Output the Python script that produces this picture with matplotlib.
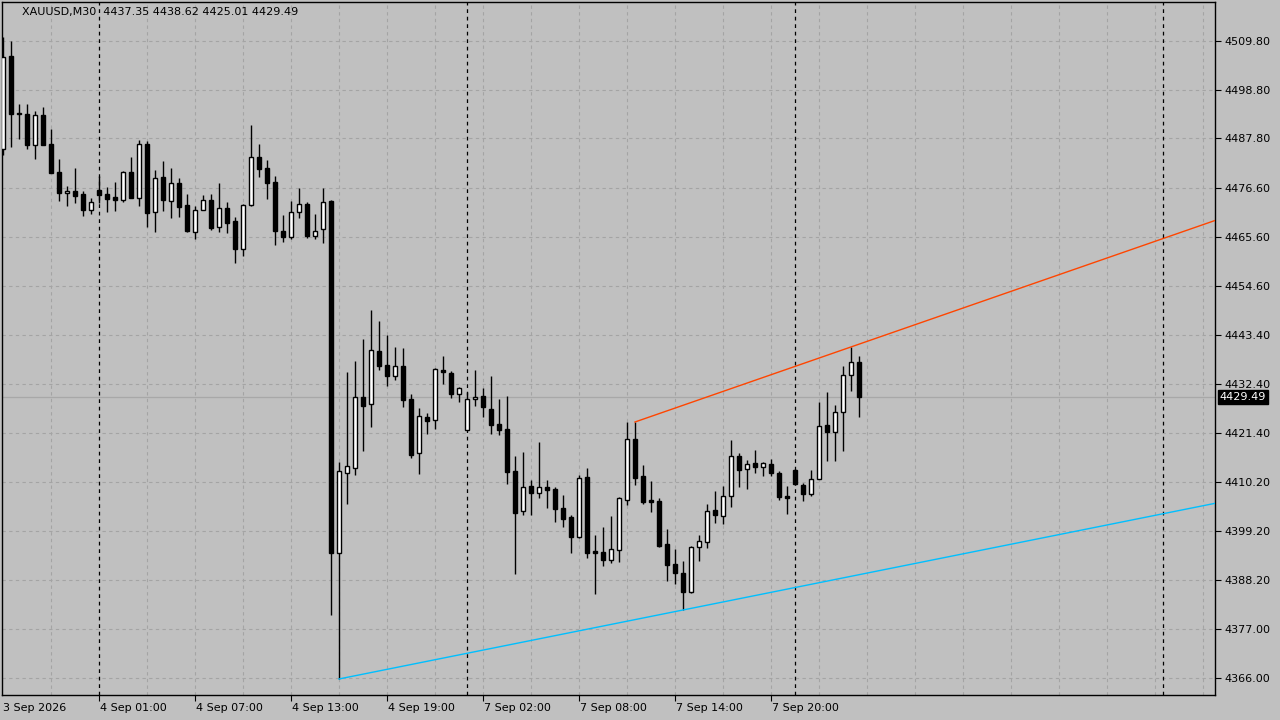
import matplotlib
matplotlib.use("Agg")
import matplotlib.pyplot as plt
from matplotlib.patches import Rectangle

opens = [4485.42,4506.42,4493.32,4493.32,4486.33,4493.10,4486.55,4480.23,4475.49,4475.94,
         4475.26,4471.65,4476.17,4475.26,4474.59,4473.91,4480.23,4474.36,4486.55,4471.20,
         4479.10,4473.68,4477.75,4472.78,4466.69,4471.65,4473.91,4467.81,4472.10,4469.17,
         4462.85,4472.78,4483.62,4481.13,4477.97,4466.91,4465.56,4471.20,4473.01,4465.78,
         4467.36,4473.68,4394.22,4412.28,4413.41,4429.44,4427.86,4439.82,4436.66,4434.18,
         4436.44,4428.99,4416.80,4424.92,4424.25,4435.53,4434.86,4430.11,4421.99,4428.99,
         4429.66,4426.73,4423.34,4422.21,4412.73,4403.70,4409.35,4407.77,4409.12,4408.67,
         4404.38,4402.35,4397.83,4411.38,4394.67,4394.45,4392.64,4394.90,4406.19,4419.96,
         4411.60,4406.19,4405.96,4396.25,4391.74,4389.71,4385.42,4395.57,4396.70,4403.93,
         4402.57,4407.09,4416.12,4413.18,4414.54,4413.64,4414.31,4412.28,4407.09,4412.96,
         4409.57,4407.54,4410.93,4423.12,4421.54,4426.05,4434.40,4437.35]
highs = [4510.71,4509.80,4495.58,4495.58,4494.00,4494.91,4489.94,4483.17,4477.07,4481.13,
         4475.94,4474.36,4479.33,4476.85,4477.97,4480.46,4483.62,4487.46,4487.23,4480.68,
         4482.71,4481.13,4478.88,4475.26,4472.56,4475.04,4475.26,4477.75,4473.46,4470.07,
         4473.01,4490.84,4486.55,4482.94,4479.33,4470.52,4473.68,4476.62,4473.46,4470.75,
         4476.62,4474.00,4414.76,4435.08,4437.56,4442.53,4449.08,4446.59,4443.43,4440.73,
         4440.50,4430.11,4426.95,4425.83,4435.98,4438.69,4435.31,4431.70,4430.57,4435.53,
         4431.47,4434.18,4428.99,4429.66,4416.12,4417.02,4410.70,4419.28,4410.70,4409.12,
         4407.31,4402.80,4411.83,4413.41,4398.28,4400.09,4402.57,4406.86,4423.79,4423.79,
         4414.09,4410.47,4406.64,4399.64,4395.12,4392.41,4395.80,4398.28,4405.28,4408.22,
         4409.35,4419.73,4416.80,4415.22,4417.47,4414.76,4415.44,4412.73,4409.35,4413.18,
         4410.02,4412.96,4428.31,4430.57,4427.63,4436.44,4440.73,4438.62]
lows = [4484.07,4485.87,4487.68,4485.42,4483.17,4486.33,4480.01,4473.68,4472.56,4473.23,
        4470.30,4470.75,4473.23,4471.20,4471.43,4473.46,4474.36,4472.56,4467.81,4466.69,
        4471.43,4469.85,4470.07,4466.69,4465.11,4471.65,4467.14,4466.69,4466.46,4459.69,
        4461.27,4472.56,4479.10,4474.14,4463.75,4464.43,4465.11,4469.85,4465.33,4465.11,
        4464.20,4380.22,4365.78,4405.28,4411.83,4417.25,4422.67,4435.53,4431.92,4433.28,
        4427.18,4415.67,4412.05,4421.08,4422.21,4432.37,4429.21,4428.31,4421.99,4427.41,
        4424.92,4421.08,4420.86,4409.80,4389.48,4402.80,4402.80,4406.64,4404.38,4401.22,
        4400.09,4394.22,4397.61,4393.09,4384.96,4391.29,4391.96,4392.19,4405.06,4409.57,
        4405.28,4403.48,4395.57,4387.90,4387.22,4381.35,4385.19,4392.41,4395.35,4400.99,
        4400.77,4404.60,4409.12,4408.67,4412.28,4411.60,4411.60,4406.19,4403.02,4409.57,
        4405.96,4407.09,4410.93,4414.99,4414.99,4417.25,4430.79,4425.01]
closes = [4506.19,4493.32,4493.32,4486.33,4493.10,4486.33,4480.01,4475.49,4475.94,4474.81,
          4471.65,4473.46,4475.04,4474.14,4473.91,4480.23,4474.36,4486.55,4470.98,4478.88,
          4473.91,4477.75,4472.33,4466.91,4471.65,4473.91,4467.59,4472.10,4468.72,4462.85,
          4472.78,4483.62,4480.91,4477.75,4466.91,4465.56,4471.20,4473.01,4465.78,4466.91,
          4473.46,4394.22,4412.73,4413.86,4429.44,4427.41,4440.05,4436.44,4434.18,4436.44,
          4428.76,4416.34,4425.15,4424.02,4435.76,4435.08,4430.11,4431.47,4428.99,4429.44,
          4427.18,4423.12,4421.99,4412.51,4403.25,4409.12,4407.77,4409.12,4408.44,4404.15,
          4401.90,4397.83,4411.15,4394.22,4394.22,4392.64,4395.12,4406.64,4419.96,4411.15,
          4405.73,4405.73,4395.80,4391.51,4389.71,4385.42,4395.57,4396.93,4403.70,4402.80,
          4407.09,4416.12,4412.96,4414.31,4413.64,4414.54,4412.28,4406.86,4406.64,4409.80,
          4407.54,4410.93,4422.89,4421.54,4426.05,4434.40,4437.34,4429.49]

price_ticks = [4509.80,4498.80,4487.80,4476.60,4465.60,4454.60,4443.40,4432.40,
               4421.40,4410.20,4399.20,4388.20,4377.00,4366.00]
time_labels = ["3 Sep 2026","4 Sep 01:00","4 Sep 07:00","4 Sep 13:00","4 Sep 19:00",
               "7 Sep 02:00","7 Sep 08:00","7 Sep 14:00","7 Sep 20:00"]
time_label_bars = [0,12,24,36,48,60,72,84,96]
day_separator_bars = [12,58,99,145]
red_line = [(79,4423.79),(106,4440.73)]
blue_line = [(42,4365.78),(85,4381.35)]
title = "XAUUSD,M30  4437.35 4438.62 4425.01 4429.49"
last_price = 4429.49

BG = "#c0c0c0"
fig = plt.figure(figsize=(12.8,7.2), dpi=100, facecolor=BG)
ax = fig.add_axes([2/1280, 25/720, 1213/1280, 693/720], facecolor=BG)
xmin, xmax = -0.125, 151.5
ymin, ymax = 4362.16, 4518.6
ax.set_xlim(xmin, xmax); ax.set_ylim(ymin, ymax)

for p in price_ticks:
    ax.axhline(p, color="#a4a4a4", lw=0.8, ls=(0,(3,3)), zorder=0)
for b in range(6, 152, 6):
    if b not in day_separator_bars:
        ax.axvline(b, color="#a4a4a4", lw=0.8, ls=(0,(3,3)), zorder=0)
for b in day_separator_bars:
    ax.axvline(b, color="black", lw=0.9, ls=(0,(3,3)), zorder=1)
ax.axhline(last_price, color="#a8a8a8", lw=0.9, zorder=1)

w = 0.62
for i,(o,h,l,c) in enumerate(zip(opens,highs,lows,closes)):
    ax.plot([i,i],[l,h], color="black", lw=1, zorder=2, solid_capstyle="butt")
    bottom = min(o,c); height = max(abs(c-o), 0.12)
    fc = "white" if c > o else "black"
    ax.add_patch(Rectangle((i-w/2,bottom), w, height, facecolor=fc, edgecolor="black", lw=1, zorder=3))

def ray(pts, color):
    (x1,y1),(x2,y2) = pts
    s = (y2-y1)/(x2-x1)
    ax.plot([x1,xmax],[y1,y1+s*(xmax-x1)], color=color, lw=1, zorder=4)
ray(red_line, "#ff4500")
ray(blue_line, "#00bfff")

for sp in ax.spines.values():
    sp.set_color("black"); sp.set_linewidth(1)

ax.yaxis.tick_right()
ax.set_yticks(price_ticks)
ax.set_yticklabels([f"{p:.2f}" for p in price_ticks], fontsize=8)
ax.tick_params(axis="y", length=4, direction="out", pad=3, colors="black")
ax.set_xticks(time_label_bars[1:])
ax.set_xticklabels([])
ax.tick_params(axis="x", length=4, direction="out")
for b,t in zip(time_label_bars, time_labels):
    xb = b + 0.1 if b else xmin + 0.1
    ax.text(xb, -0.012, t, transform=ax.get_xaxis_transform(),
            ha="left", va="top", fontsize=8, color="black")

ax.text(1.004, last_price, f"{last_price:.2f}", transform=ax.get_yaxis_transform(),
        ha="left", va="center", fontsize=8, color="white",
        bbox=dict(boxstyle="square,pad=0.2", facecolor="black", edgecolor="black"))
ax.text(20/1213, 1-10/693, title, transform=ax.transAxes, ha="left", va="center", fontsize=8, color="black")

fig.savefig("out.png", dpi=100, facecolor=BG)
